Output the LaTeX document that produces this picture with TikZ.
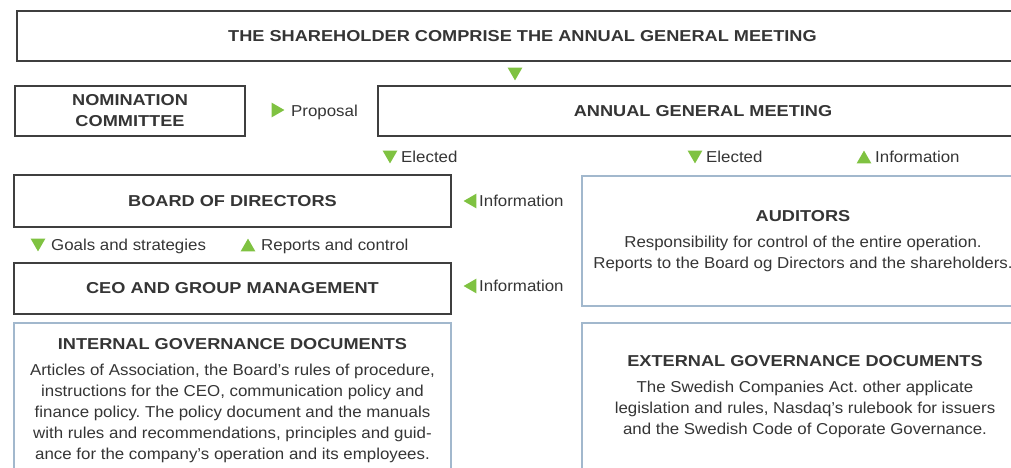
\documentclass[tikz,border=0pt]{standalone}
\usepackage{fontspec}
\setmainfont{Liberation Sans}[FakeStretch=1.068, BoldFeatures={FakeStretch=1.15}]
\frenchspacing
\usepackage{tikz}
\usetikzlibrary{shapes.geometric,positioning}
\definecolor{boxline}{HTML}{3F3F3F}
\definecolor{docline}{HTML}{A2B8CD}
\definecolor{markgreen}{HTML}{7FC241}
\definecolor{inktext}{HTML}{353535}
\tikzset{
    body/.style={
                font=\fontsize{15.8}{21}\selectfont,
                text=inktext
            },
        organ/.style={
                body,
                font=\fontsize{15.8}{21}\selectfont\bfseries,
                draw=boxline,
                line width=2.2pt,
                anchor=north west,
                align=center,
                inner sep=0pt,
                outer sep=0pt
            },
        document/.style={
                body,
                draw=docline,
                line width=2pt,
                anchor=north west,
                align=center,
                inner sep=0pt,
                outer sep=0pt
            },
        flow/.style={
                body,
                anchor=west,
                inner sep=0pt,
                text height=11.4pt,
                text depth=0pt
            },
        marker/.style={
                regular polygon,
                regular polygon sides=3,
                fill=markgreen,
                minimum size=17pt,
                inner sep=0pt
            },
        markdown/.style={marker, regular polygon rotate=180, yshift=2.1pt},
        markup/.style={marker, yshift=-2.1pt},
        markright/.style={marker, regular polygon rotate=-90, xshift=-2.1pt},
        markleft/.style={marker, regular polygon rotate=90, xshift=2.1pt},
}

\begin{document}
\begin{tikzpicture}[x=1pt, y=-1pt]
  \useasboundingbox (0,0) rectangle (1011,467);
  \clip (0,0) rectangle (1011,467);
  % Meeting
  \node[organ, minimum width=1011pt, minimum height=50pt] (share) at (17,11)
    {THE SHAREHOLDER COMPRISE THE ANNUAL GENERAL MEETING};
  \node[markdown] (toagm) at (515,74) {};
  \node[organ, minimum width=230pt, minimum height=50pt] (nom) at (15,86)
    {NOMINATION\\COMMITTEE};
  \node[markright] (toprop) at (278,110) {};
  \node[flow] (prop) at (291,111) {Proposal};
  \node[organ, minimum width=650pt, minimum height=50pt] (agm) at (378,86)
    {ANNUAL GENERAL MEETING};
  % Elected and information
  \node[markdown] (toboard) at (390,157) {};
  \node[flow] (elboard) at (401,157) {Elected};
  \node[markdown] (toaud) at (695,157) {};
  \node[flow] (elaud) at (706,157) {Elected};
  \node[markup] (fromaud) at (864,157) {};
  \node[flow] (infoagm) at (875,157) {Information};
  % Board and management
  \node[organ, minimum width=437pt, minimum height=52pt] (board) at (14,175)
    {BOARD OF DIRECTORS};
  \node[markleft] (audboard) at (470,201) {};
  \node[flow] (infoboard) at (479,201) {Information};
  \node[markdown] (toceo) at (38,245) {};
  \node[flow] (goals) at (51,245) {Goals and strategies};
  \node[markup] (fromceo) at (248,245) {};
  \node[flow] (reports) at (261,245) {Reports and control};
  \node[organ, minimum width=437pt, minimum height=51pt] (ceo) at (14,263)
    {CEO AND GROUP MANAGEMENT};
  \node[markleft] (audceo) at (470,286) {};
  \node[flow] (infoceo) at (479,286) {Information};
  \node[document, minimum width=442pt, minimum height=130pt] (aud) at (582,176)
    {\textbf{AUDITORS}\\[5pt]
     Responsibility for control of the entire operation.\\
     Reports to the Board og Directors and the shareholders.};
  % Documents
  \node[document, minimum width=437pt, minimum height=156pt] (intdoc) at (14,323)
    {\textbf{INTERNAL GOVERNANCE DOCUMENTS}\\[5pt]
     Articles of Association, the Board’s rules of procedure,\\
     instructions for the CEO, communication policy and\\
     finance policy. The policy document and the manuals\\
     with rules and recommendations, principles and guid-\\
     ance for the company’s operation and its employees.};
  \node[document, minimum width=446pt, minimum height=148pt] (extdoc) at (582,323)
    {\textbf{EXTERNAL GOVERNANCE DOCUMENTS}\\[5pt]
     The Swedish Companies Act. other applicate\\
     legislation and rules, Nasdaq’s rulebook for issuers\\
     and the Swedish Code of Coporate Governance.};
\end{tikzpicture}
\end{document}
